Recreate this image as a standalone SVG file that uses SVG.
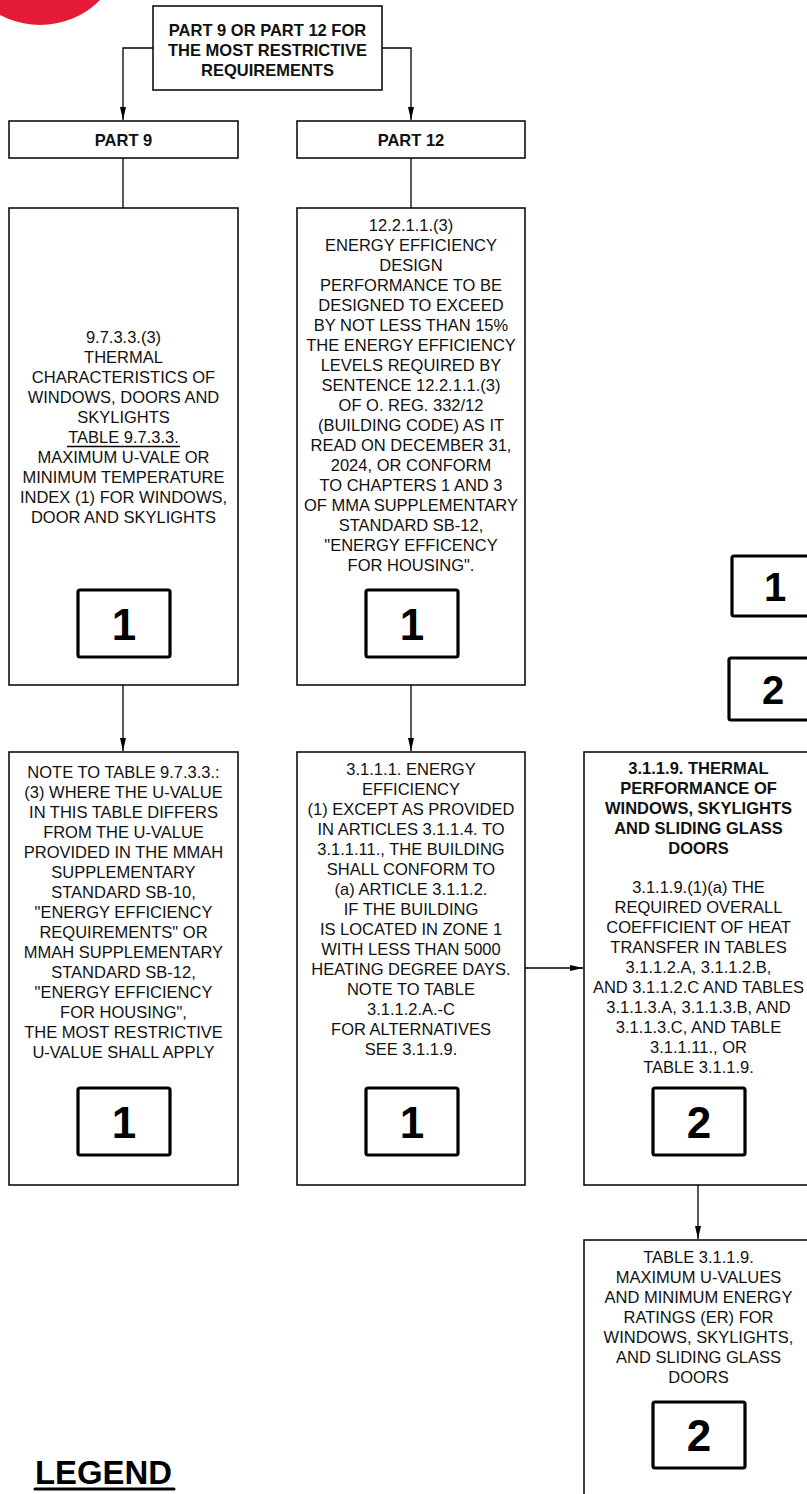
<svg xmlns="http://www.w3.org/2000/svg" width="807" height="1494" viewBox="0 0 807 1494">
<style>
.box{fill:#fff;stroke:#000;stroke-width:1.5}
.key{fill:#fff;stroke:#000;stroke-width:3.2}
.t{font-family:"Liberation Sans",Arial,sans-serif;font-size:16.5px;fill:#111;text-anchor:middle}
.b{font-weight:bold}
.d{font-family:"Liberation Sans",Arial,sans-serif;font-size:44px;font-weight:bold;fill:#000;text-anchor:middle}
.c{fill:none;stroke:#000;stroke-width:1.3}
</style>
<defs>
<marker id="ah" markerWidth="14" markerHeight="8" refX="13" refY="4" orient="auto" markerUnits="userSpaceOnUse">
<path d="M0,1 L13,4 L0,7 Z" fill="#000"/>
</marker>
</defs>
<rect width="807" height="1494" fill="#fff"/>
<circle cx="40" cy="-60" r="85" fill="#E31B37"/>

<g id="connectors">
<path class="c" d="M153,48 H123 V120" marker-end="url(#ah)"/>
<path class="c" d="M382,48 H411 V120" marker-end="url(#ah)"/>
<path class="c" d="M123,158 V208"/>
<path class="c" d="M411,158 V208"/>
<path class="c" d="M123,685 V751" marker-end="url(#ah)"/>
<path class="c" d="M411,685 V751" marker-end="url(#ah)"/>
<path class="c" d="M525,968 H583" marker-end="url(#ah)"/>
<path class="c" d="M698,1185 V1239" marker-end="url(#ah)"/>
</g>

<g id="top">
<rect class="box" x="153" y="6" width="229" height="84"/>
<text class="t b" x="267.5" y="36">PART 9 OR PART 12 FOR</text>
<text class="t b" x="267.5" y="56">THE MOST RESTRICTIVE</text>
<text class="t b" x="267.5" y="76">REQUIREMENTS</text>
</g>

<g id="part9">
<rect class="box" x="9" y="121" width="229" height="37"/>
<text class="t b" x="123.5" y="146">PART 9</text>
</g>

<g id="part12">
<rect class="box" x="297" y="121" width="228" height="37"/>
<text class="t b" x="411" y="146">PART 12</text>
</g>

<g id="n973">
<rect class="box" x="9" y="208" width="229" height="477"/>
<text class="t" x="123.5" y="343">9.7.3.3.(3)</text>
<text class="t" x="123.5" y="363">THERMAL</text>
<text class="t" x="123.5" y="383">CHARACTERISTICS OF</text>
<text class="t" x="123.5" y="403">WINDOWS, DOORS AND</text>
<text class="t" x="123.5" y="423">SKYLIGHTS</text>
<text class="t" x="123.5" y="443">TABLE 9.7.3.3.</text>
<line x1="67" y1="446.5" x2="180" y2="446.5" stroke="#000" stroke-width="1.3"/>
<text class="t" x="123.5" y="463">MAXIMUM U-VALE OR</text>
<text class="t" x="123.5" y="483">MINIMUM TEMPERATURE</text>
<text class="t" x="123.5" y="503">INDEX (1) FOR WINDOWS,</text>
<text class="t" x="123.5" y="523">DOOR AND SKYLIGHTS</text>
<rect class="key" x="78" y="590" width="92" height="67" rx="2"/>
<text class="d" x="124" y="640">1</text>
</g>

<g id="n1221">
<rect class="box" x="297" y="208" width="228" height="477"/>
<text class="t" x="411" y="231">12.2.1.1.(3)</text>
<text class="t" x="411" y="251">ENERGY EFFICIENCY</text>
<text class="t" x="411" y="271">DESIGN</text>
<text class="t" x="411" y="291">PERFORMANCE TO BE</text>
<text class="t" x="411" y="311">DESIGNED TO EXCEED</text>
<text class="t" x="411" y="331">BY NOT LESS THAN 15%</text>
<text class="t" x="411" y="351">THE ENERGY EFFICIENCY</text>
<text class="t" x="411" y="371">LEVELS REQUIRED BY</text>
<text class="t" x="411" y="391">SENTENCE 12.2.1.1.(3)</text>
<text class="t" x="411" y="411">OF O. REG. 332/12</text>
<text class="t" x="411" y="431">(BUILDING CODE) AS IT</text>
<text class="t" x="411" y="451">READ ON DECEMBER 31,</text>
<text class="t" x="411" y="471">2024, OR CONFORM</text>
<text class="t" x="411" y="491">TO CHAPTERS 1 AND 3</text>
<text class="t" x="411" y="511">OF MMA SUPPLEMENTARY</text>
<text class="t" x="411" y="531">STANDARD SB-12,</text>
<text class="t" x="411" y="551">"ENERGY EFFICENCY</text>
<text class="t" x="411" y="571">FOR HOUSING".</text>
<rect class="key" x="366" y="590" width="92" height="67" rx="2"/>
<text class="d" x="412" y="640">1</text>
</g>

<g id="note">
<rect class="box" x="9" y="752" width="229" height="433"/>
<text class="t" x="123.5" y="778">NOTE TO TABLE 9.7.3.3.:</text>
<text class="t" x="123.5" y="798">(3) WHERE THE U-VALUE</text>
<text class="t" x="123.5" y="818">IN THIS TABLE DIFFERS</text>
<text class="t" x="123.5" y="838">FROM THE U-VALUE</text>
<text class="t" x="123.5" y="858">PROVIDED IN THE MMAH</text>
<text class="t" x="123.5" y="878">SUPPLEMENTARY</text>
<text class="t" x="123.5" y="898">STANDARD SB-10,</text>
<text class="t" x="123.5" y="918">"ENERGY EFFICIENCY</text>
<text class="t" x="123.5" y="938">REQUIREMENTS" OR</text>
<text class="t" x="123.5" y="958">MMAH SUPPLEMENTARY</text>
<text class="t" x="123.5" y="978">STANDARD SB-12,</text>
<text class="t" x="123.5" y="998">"ENERGY EFFICIENCY</text>
<text class="t" x="123.5" y="1018">FOR HOUSING",</text>
<text class="t" x="123.5" y="1038">THE MOST RESTRICTIVE</text>
<text class="t" x="123.5" y="1058">U-VALUE SHALL APPLY</text>
<rect class="key" x="78" y="1088" width="92" height="67" rx="2"/>
<text class="d" x="124" y="1138">1</text>
</g>

<g id="n3111">
<rect class="box" x="297" y="752" width="228" height="433"/>
<text class="t" x="411" y="775">3.1.1.1. ENERGY</text>
<text class="t" x="411" y="795">EFFICIENCY</text>
<text class="t" x="411" y="815">(1) EXCEPT AS PROVIDED</text>
<text class="t" x="411" y="835">IN ARTICLES 3.1.1.4. TO</text>
<text class="t" x="411" y="855">3.1.1.11., THE BUILDING</text>
<text class="t" x="411" y="875">SHALL CONFORM TO</text>
<text class="t" x="411" y="895">(a) ARTICLE 3.1.1.2.</text>
<text class="t" x="411" y="915">IF THE BUILDING</text>
<text class="t" x="411" y="935">IS LOCATED IN ZONE 1</text>
<text class="t" x="411" y="955">WITH LESS THAN 5000</text>
<text class="t" x="411" y="975">HEATING DEGREE DAYS.</text>
<text class="t" x="411" y="995">NOTE TO TABLE</text>
<text class="t" x="411" y="1015">3.1.1.2.A.-C</text>
<text class="t" x="411" y="1035">FOR ALTERNATIVES</text>
<text class="t" x="411" y="1055">SEE 3.1.1.9.</text>
<rect class="key" x="366" y="1088" width="92" height="67" rx="2"/>
<text class="d" x="412" y="1138">1</text>
</g>

<g id="n3119">
<rect class="box" x="584" y="752" width="229" height="433"/>
<text class="t b" x="698.5" y="774">3.1.1.9. THERMAL</text>
<text class="t b" x="698.5" y="794">PERFORMANCE OF</text>
<text class="t b" x="698.5" y="814">WINDOWS, SKYLIGHTS</text>
<text class="t b" x="698.5" y="834">AND SLIDING GLASS</text>
<text class="t b" x="698.5" y="854">DOORS</text>
<text class="t" x="698.5" y="893">3.1.1.9.(1)(a) THE</text>
<text class="t" x="698.5" y="913">REQUIRED OVERALL</text>
<text class="t" x="698.5" y="933">COEFFICIENT OF HEAT</text>
<text class="t" x="698.5" y="953">TRANSFER IN TABLES</text>
<text class="t" x="698.5" y="973">3.1.1.2.A, 3.1.1.2.B,</text>
<text class="t" x="698.5" y="993">AND 3.1.1.2.C AND TABLES</text>
<text class="t" x="698.5" y="1013">3.1.1.3.A, 3.1.1.3.B, AND</text>
<text class="t" x="698.5" y="1033">3.1.1.3.C, AND TABLE</text>
<text class="t" x="698.5" y="1053">3.1.1.11., OR</text>
<text class="t" x="698.5" y="1073">TABLE 3.1.1.9.</text>
<rect class="key" x="653" y="1088" width="92" height="67" rx="2"/>
<text class="d" x="699" y="1138">2</text>
</g>

<g id="table3119">
<rect class="box" x="584" y="1240" width="229" height="270"/>
<text class="t" x="698.5" y="1263">TABLE 3.1.1.9.</text>
<text class="t" x="698.5" y="1283">MAXIMUM U-VALUES</text>
<text class="t" x="698.5" y="1303">AND MINIMUM ENERGY</text>
<text class="t" x="698.5" y="1323">RATINGS (ER) FOR</text>
<text class="t" x="698.5" y="1343">WINDOWS, SKYLIGHTS,</text>
<text class="t" x="698.5" y="1363">AND SLIDING GLASS</text>
<text class="t" x="698.5" y="1383">DOORS</text>
<rect class="key" x="653" y="1402" width="92" height="66" rx="2"/>
<text class="d" x="699" y="1451">2</text>
</g>

<g id="legend">
<rect class="key" x="732" y="556" width="90" height="60" rx="2"/>
<text class="d" x="775" y="601" style="font-size:40px">1</text>
<rect class="key" x="729" y="658" width="90" height="62" rx="2"/>
<text class="d" x="773" y="704" style="font-size:40px">2</text>
<text x="35" y="1484" font-family="Liberation Sans,Arial,sans-serif" font-weight="bold" font-size="34" textLength="137" lengthAdjust="spacingAndGlyphs" fill="#000">LEGEND</text>
<line x1="35" y1="1489" x2="174" y2="1489" stroke="#000" stroke-width="3" stroke-linecap="round"/>
</g>
</svg>
